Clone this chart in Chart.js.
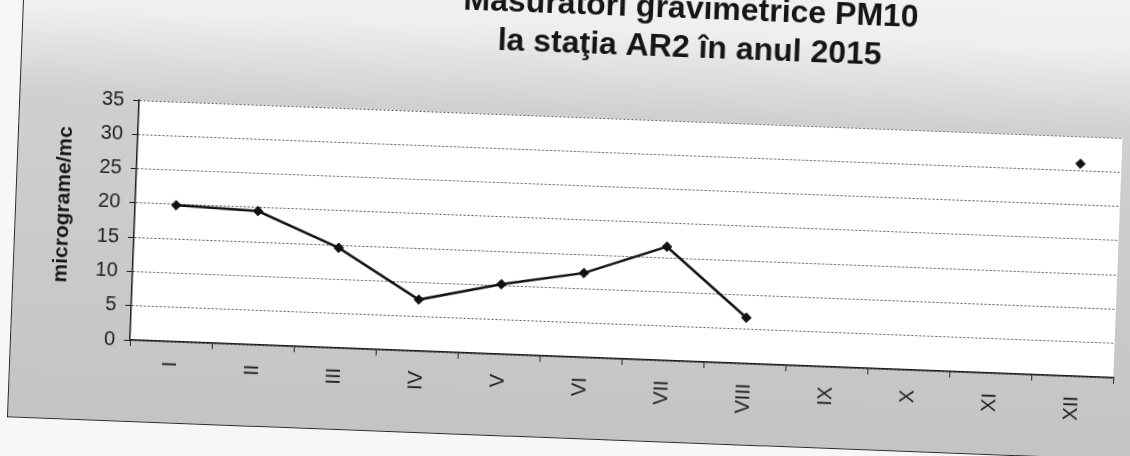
<!DOCTYPE html>
<html>
<head>
<meta charset="utf-8">
<script src="https://cdn.jsdelivr.net/npm/chart.js@4.4.0/dist/chart.umd.min.js"></script>
<style>
html,body{margin:0;padding:0;width:1130px;height:456px;overflow:hidden;background:#f7f7f7;}
#wrap{position:absolute;left:0;top:0;width:1130px;height:456px;transform:rotate(2.2deg);transform-origin:130px 340px;}
#frame{position:absolute;left:10px;top:-120px;width:1210px;height:542px;box-sizing:border-box;
  border-left:1.5px solid #2a2a2a;border-bottom:1.5px solid #2a2a2a;
  background:linear-gradient(to bottom,#f4f4f4 0px,#efefef 130px,#d0d0d0 215px,#c4c4c4 542px);}
#box{position:absolute;left:0;top:-34px;width:1140px;height:454px;}
</style>
</head>
<body>
<div id="wrap"><div id="frame"></div><div id="box"><canvas id="c"></canvas></div></div>
<script>
// ---- data ----
const titleLines = ['Măsurători gravimetrice PM10', 'la staţia AR2 în anul 2015'];
const yAxisTitle = 'micrograme/mc';
const months = ['I', 'II', 'III', 'IV', 'V', 'VI', 'VII', 'VIII', 'IX', 'X', 'XI', 'XII'];
const pm10 = [19.9, 19.5, 14.6, 7.5, 10.2, 12.3, 16.6, 6.7, null, null, null, 31.0];
const yMin = 0, yMax = 35, yStep = 5;

const FONT = '"Liberation Sans", Arial, sans-serif';

const decor = {
  id: 'decor',
  beforeDraw(chart) {
    const {ctx, chartArea: a} = chart;
    ctx.save();
    ctx.fillStyle = '#ffffff';
    ctx.fillRect(a.left, a.top, a.right - a.left, a.bottom - a.top);
    ctx.restore();
  },
  afterDraw(chart) {
    const ctx = chart.ctx;
    ctx.save();
    ctx.fillStyle = '#151515';
    ctx.font = 'bold 32px ' + FONT;
    ctx.textAlign = 'center';
    ctx.textBaseline = 'alphabetic';
    ctx.fillText(titleLines[0], 678, 31);
    ctx.fillText(titleLines[1], 678, 70);
    ctx.translate(58, 241);
    ctx.rotate(-Math.PI / 2);
    ctx.font = 'bold 21px ' + FONT;
    ctx.textBaseline = 'middle';
    ctx.fillText(yAxisTitle, 0, 0);
    ctx.restore();
  }
};

new Chart(document.getElementById('c'), {
  type: 'line',
  data: {
    labels: months,
    datasets: [{
      data: pm10,
      borderColor: '#111111',
      borderWidth: 2.5,
      pointStyle: 'rectRot',
      pointRadius: 4.8,
      pointBorderWidth: 1,
      pointBackgroundColor: '#111111',
      pointBorderColor: '#111111',
      tension: 0,
      spanGaps: false
    }]
  },
  options: {
    responsive: true,
    maintainAspectRatio: false,
    animation: false,
    layout: {padding: {top: 134, left: 0, right: 26, bottom: 0}},
    plugins: {legend: {display: false}, title: {display: false}, tooltip: {enabled: false}},
    scales: {
      x: {
        type: 'category',
        offset: true,
        grid: {offset: true, drawOnChartArea: false, drawTicks: true, tickLength: 6, color: '#222222', lineWidth: 1},
        border: {display: true, color: '#1a1a1a', width: 1.5},
        ticks: {minRotation: 90, maxRotation: 90, autoSkip: false, padding: 14, color: '#1e1e1e', font: {family: FONT, size: 20}},
        afterFit(scale) { scale.height = 80; }
      },
      y: {
        min: yMin, max: yMax,
        ticks: {stepSize: yStep, padding: 9, color: '#1e1e1e', font: {family: FONT, size: 20}},
        grid: {color: '#555555', lineWidth: 1, drawTicks: true, tickLength: 6, tickColor: '#1a1a1a', tickBorderDash: []},
        border: {display: true, color: '#1a1a1a', width: 1.5, dash: [2, 2]},
        afterFit(scale) { scale.width = 130; }
      }
    }
  },
  plugins: [decor]
});
</script>
</body>
</html>
